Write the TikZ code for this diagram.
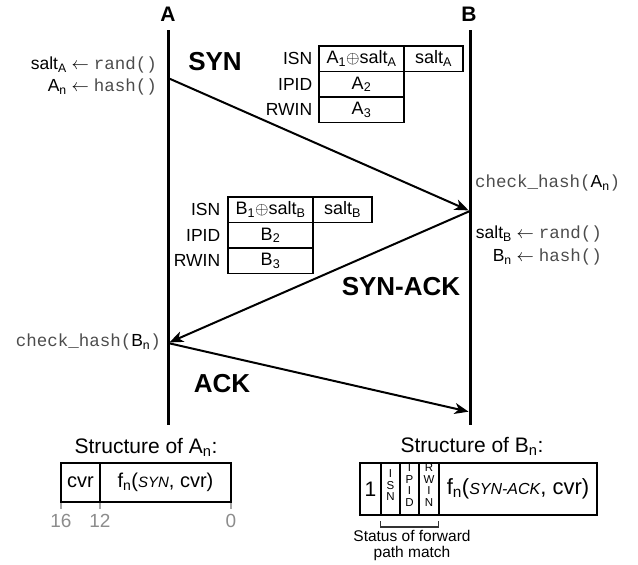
\documentclass[tikz,border=0pt]{standalone}
\usepackage{fontspec}
\setmainfont{Liberation Sans}
\setmonofont{Liberation Mono}
\usetikzlibrary{arrows.meta}
\begin{document}
\begin{tikzpicture}[x=1pt,y=-1pt,
  txt/.style={font=\fontsize{17.5}{20}\selectfont, inner sep=0pt},
  msglbl/.style={font=\fontsize{26}{30}\selectfont\bfseries, inner sep=0pt},
  hdr/.style={font=\fontsize{21}{24}\selectfont\bfseries, inner sep=0pt},
  life/.style={line width=3pt},
  msg/.style={line width=2pt, -{Stealth[length=14pt,width=11pt,inset=4pt]}},
  cell/.style={draw, line width=1.2pt, minimum height=25.5pt, inner sep=0pt, font=\fontsize{18}{20}\selectfont},
  sbox/.style={draw, line width=1.5pt, inner sep=0pt, font=\fontsize{20}{24}\selectfont},
  vbox/.style={draw, line width=1.5pt, inner sep=0pt, minimum height=52pt},
  vlet/.style={inner sep=0pt, align=center, font=\fontsize{11.5}{11.5}\selectfont},
  title/.style={font=\fontsize{21}{24}\selectfont, inner sep=0pt},
  tick/.style={draw=black!35, line width=1.5pt},
  ticklbl/.style={font=\fontsize{19}{22}\selectfont, text=black!45, inner sep=0pt}
]
\useasboundingbox (0,0) rectangle (638,565);
\newcommand{\tth}[1]{{\ttfamily\color{black!70}#1}}

% lifelines
\node[hdr] (A) at (168,14) {A};
\node[hdr] (B) at (469,14) {B};
\coordinate (Atop) at (168,30);
\coordinate (Abot) at (168,425);
\coordinate (Btop) at (470,30);
\coordinate (Bbot) at (470,425);
\draw[life] (Atop) -- (Abot);
\draw[life] (Btop) -- (Bbot);

% message points
\coordinate (a1) at (168,78);
\coordinate (b1) at (470,211);
\coordinate (a2) at (168,343);
\coordinate (b2) at (470,412);
\draw[msg, shorten >=1.5pt] (a1) -- (b1);
\draw[msg, shorten >=1.5pt] (b1) -- (a2);
\draw[msg, shorten >=1.5pt] (a2) -- (b2);

% message labels
\node[msglbl] (lsyn) at (215,62) {SYN};
\node[msglbl] (lsynack) at (401,287) {SYN-ACK};
\node[msglbl] (lack) at (222,384) {ACK};

% left annotations
\node[txt, anchor=east] (n1) at (157,65) {salt\textsubscript{A} $\leftarrow$ \tth{rand()}};
\node[txt, anchor=east] (n2) at (157,87) {A\textsubscript{n} $\leftarrow$ \tth{hash()}};
\node[txt, anchor=east] (n3) at (161,342) {\tth{check\_hash(}B\textsubscript{n}\tth{)}};

% right annotations
\node[txt, anchor=west] (m1) at (475,183) {\tth{check\_hash(}A\textsubscript{n}\tth{)}};
\node[txt, anchor=east] (m2) at (602,234) {salt\textsubscript{B} $\leftarrow$ \tth{rand()}};
\node[txt, anchor=east] (m3) at (602,257) {B\textsubscript{n} $\leftarrow$ \tth{hash()}};

% SYN table
\node[cell, minimum width=85pt] (s11) at (361.5,58.75) {A\textsubscript{1}$\oplus$salt\textsubscript{A}};
\node[cell, minimum width=59pt] (s12) at (433.5,58.75) {salt\textsubscript{A}};
\node[cell, minimum width=85pt] (s21) at (361.5,84.25) {A\textsubscript{2}};
\node[cell, minimum width=85pt] (s31) at (361.5,109.75) {A\textsubscript{3}};
\node[txt, anchor=east] (sl1) at ([xshift=-6pt]s11.west) {ISN};
\node[txt, anchor=east] (sl2) at ([xshift=-6pt]s21.west) {IPID};
\node[txt, anchor=east] (sl3) at ([xshift=-6pt]s31.west) {RWIN};

% SYN-ACK table
\node[cell, minimum width=85pt] (t11) at (270.5,209.75) {B\textsubscript{1}$\oplus$salt\textsubscript{B}};
\node[cell, minimum width=59pt] (t12) at (342.5,209.75) {salt\textsubscript{B}};
\node[cell, minimum width=85pt] (t21) at (270.5,235.25) {B\textsubscript{2}};
\node[cell, minimum width=85pt] (t31) at (270.5,260.75) {B\textsubscript{3}};
\node[txt, anchor=east] (tl1) at ([xshift=-7pt]t11.west) {ISN};
\node[txt, anchor=east] (tl2) at ([xshift=-7pt]t21.west) {IPID};
\node[txt, anchor=east] (tl3) at ([xshift=-7pt]t31.west) {RWIN};

% Structure of A_n
\node[title] (ta) at (146,447) {Structure of A\textsubscript{n}:};
\node[sbox, minimum width=39pt, minimum height=39pt] (acvr) at (80.5,482.5) {cvr};
\node[sbox, minimum width=131pt, minimum height=39pt] (af) at (165.5,482.5) {f\textsubscript{n}({\itshape\fontsize{15}{18}\selectfont SYN}, cvr)};
\coordinate (k16) at (61,503);
\coordinate (k12) at (100,503);
\coordinate (k0) at (231,503);
\draw[tick] (k16) -- ++(0,6);
\draw[tick] (k12) -- ++(0,6);
\draw[tick] (k0) -- ++(0,6);
\node[ticklbl] (l16) at (61,521) {16};
\node[ticklbl] (l12) at (100,521) {12};
\node[ticklbl] (l0) at (231,521) {0};

% Structure of B_n
\node[title] (tb) at (472,446) {Structure of B\textsubscript{n}:};
\node[sbox, minimum width=21pt, minimum height=52pt, font=\fontsize{21}{24}\selectfont] (bone) at (370.5,489) {1};
\node[vbox, minimum width=19pt] (bisn) at (390.5,489) {};
\node[vbox, minimum width=19pt] (bipid) at (409.5,489) {};
\node[vbox, minimum width=20pt] (brwin) at (429,489) {};
\node[vlet] (lisn) at ([yshift=3.5pt]bisn.center) {I\\S\\N};
\node[vlet] (lipid) at ([yshift=4pt]bipid.center) {I\\P\\I\\D};
\node[vlet] (lrwin) at ([yshift=4pt]brwin.center) {R\\W\\I\\N};
\node[sbox, minimum width=158pt, minimum height=52pt, font=\fontsize{22}{24}\selectfont] (bf) at (518,489) {f\textsubscript{n}({\itshape\fontsize{16}{18}\selectfont SYN-ACK}, cvr)};
\coordinate (brL) at (380.5,521);
\coordinate (brR) at (438.5,521);
\draw[line width=1.2pt, black!80] (brL) -- ++(0,6) -| (brR);
\node[font=\fontsize{15.5}{16.5}\selectfont, align=center, inner sep=0pt] (status) at (412,545.5) {Status of forward\\path match};
\end{tikzpicture}
\end{document}
